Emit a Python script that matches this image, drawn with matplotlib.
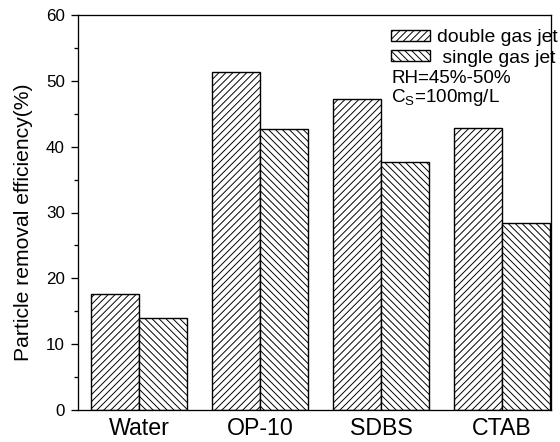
import matplotlib
matplotlib.use("Agg")
import matplotlib.pyplot as plt
import numpy as np

categories = ["Water", "OP-10", "SDBS", "CTAB"]
double_jet = [17.6, 51.3, 47.3, 42.9]
single_jet = [13.9, 42.7, 37.7, 28.4]
y_ticks = [0, 10, 20, 30, 40, 50, 60]

plt.rcParams['font.family'] = ['Liberation Sans', 'DejaVu Sans']
plt.rcParams['mathtext.fontset'] = 'custom'
plt.rcParams['mathtext.rm'] = 'Liberation Sans'
plt.rcParams['hatch.linewidth'] = 0.55

DPI = 125
fig = plt.figure(figsize=(560 / DPI, 442 / DPI), dpi=DPI)
ax = fig.add_axes([77.7 / 560, 1 - 410 / 442, (551 - 77.7) / 560, (410 - 15) / 442])

x = np.arange(len(categories))
w = 0.4
ax.bar(x - w / 2, double_jet, width=w, facecolor='white', edgecolor='black',
       hatch='//////', linewidth=0.8, label='double gas jet')
ax.bar(x + w / 2, single_jet, width=w, facecolor='white', edgecolor='black',
       hatch='\\\\\\\\\\\\', linewidth=0.8, label=' single gas jet')

ax.set_xlim(-0.507, 3.405)
ax.set_ylim(0, 60)
ax.set_xticks(x)
ax.set_xticklabels(categories, fontsize=13.3)
ax.tick_params(axis='x', length=0, pad=4)
ax.set_yticks(y_ticks)
ax.set_yticks(np.arange(5, 60, 10), minor=True)
ax.tick_params(axis='y', which='major', length=4, width=0.75, labelsize=9.8, pad=3.5)
ax.tick_params(axis='y', which='minor', length=2.5, width=0.75)
ax.set_ylabel("Particle removal efficiency(%)", fontsize=12.2)
ax.yaxis.set_label_coords(-0.094, 0.475)
for s in ax.spines.values():
    s.set_linewidth(0.75)

leg = ax.legend(loc='upper left', bbox_to_anchor=(0.662, 0.964), frameon=False,
                fontsize=11.2, handlelength=2.0, handleheight=0.5,
                handletextpad=0.35, labelspacing=0.17, borderpad=0, borderaxespad=0)

ax.text(0.663, 0.8405, "RH=45%-50%", transform=ax.transAxes, fontsize=10.9,
        va='center', ha='left')
ax.text(0.663, 0.79, r"C$_\mathregular{S}$=100mg/L", transform=ax.transAxes,
        fontsize=10.9, va='center', ha='left')

fig.savefig("out.png", dpi=DPI)
